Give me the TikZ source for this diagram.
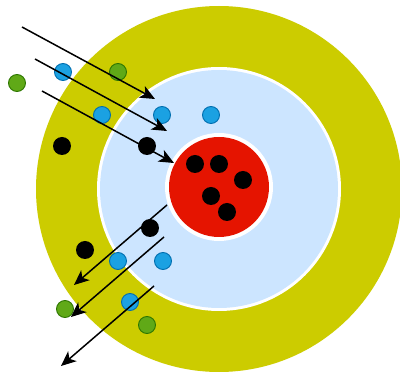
\documentclass[tikz,border=0pt]{standalone}
\usetikzlibrary{arrows.meta}
\definecolor{ylw}{HTML}{CCCC00}
\definecolor{lblue}{HTML}{CCE5FF}
\definecolor{rd}{HTML}{E51400}
\definecolor{bdot}{HTML}{1BA1E2}
\definecolor{bdotb}{HTML}{006EAF}
\definecolor{gdot}{HTML}{60A917}
\definecolor{gdotb}{HTML}{2D7600}
\tikzset{
  bluedot/.style={circle,fill=bdot,draw=bdotb,line width=0.9pt,minimum size=17pt,inner sep=0pt},
  greendot/.style={circle,fill=gdot,draw=gdotb,line width=0.9pt,minimum size=17pt,inner sep=0pt},
  blackdot/.style={circle,fill=black,minimum size=18pt,inner sep=0pt},
  ray/.style={line width=1.5pt,-{Stealth[length=15pt,width=13pt,inset=4pt]}}
}
\begin{document}
\begin{tikzpicture}[x=1pt,y=-1pt]
\useasboundingbox (0,0) rectangle (400,374);
\begin{scope}
\clip (0,0) rectangle (400,374);
\fill[ylw] (219,189) circle (183);
\end{scope}
\fill[white] (219,189) circle (122);
\fill[lblue] (219,189) circle (119);
\fill[white] (219,187) circle (54);
\fill[rd] (219,187) circle (50);
% dots in red
\node[blackdot] (k1) at (195,164) {};
\node[blackdot] (k2) at (219,164) {};
\node[blackdot] (k3) at (243,180) {};
\node[blackdot] (k4) at (211,196) {};
\node[blackdot] (k5) at (227,212) {};
% upper dots
\node[greendot] (g1) at (17,83) {};
\node[bluedot] (b1) at (63,72) {};
\node[greendot] (g2) at (118,72) {};
\node[bluedot] (b2) at (102,115) {};
\node[bluedot] (b3) at (162,115) {};
\node[bluedot] (b4) at (211,115) {};
\node[blackdot] (k6) at (62,146) {};
\node[blackdot] (k7) at (147,146) {};
% lower dots
\node[blackdot] (k8) at (150,228) {};
\node[blackdot] (k9) at (85,250) {};
\node[bluedot] (b5) at (118,261) {};
\node[bluedot] (b6) at (163,261) {};
\node[bluedot] (b7) at (130,302) {};
\node[greendot] (g3) at (65,309) {};
\node[greendot] (g4) at (147,325) {};
% arrows
\coordinate (s1) at (22,27); \coordinate (t1) at (155,99);
\coordinate (s2) at (35,59); \coordinate (t2) at (167,131);
\coordinate (s3) at (42,91); \coordinate (t3) at (174,163);
\coordinate (s4) at (167,205); \coordinate (t4) at (74,285);
\coordinate (s5) at (164,237); \coordinate (t5) at (71,317);
\coordinate (s6) at (154,286); \coordinate (t6) at (61,366);
\draw[ray] (s1) -- (t1);
\draw[ray] (s2) -- (t2);
\draw[ray] (s3) -- (t3);
\draw[ray] (s4) -- (t4);
\draw[ray] (s5) -- (t5);
\draw[ray] (s6) -- (t6);
\end{tikzpicture}
\end{document}
